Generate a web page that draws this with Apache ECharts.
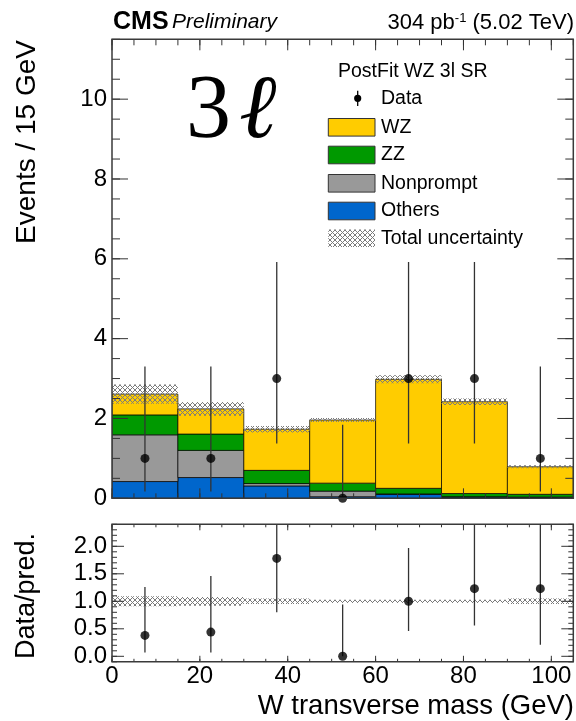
<!DOCTYPE html>
<html><head><meta charset="utf-8">
<script src="https://cdn.jsdelivr.net/npm/echarts@6/dist/echarts.min.js"></script>
<style>html,body{margin:0;padding:0;background:#fff}#c{width:576px;height:721px}</style>
</head><body><div id="c"></div>
<script>
// ---------------- data ----------------
const binEdges   = [0, 15, 30, 45, 60, 75, 90, 105];
const others     = [0.42, 0.52, 0.31, 0.04, 0.10, 0.03, 0.02];
const nonprompt  = [1.17, 0.68, 0.06, 0.14, 0.01, 0.01, 0.01];
const zz         = [0.50, 0.41, 0.33, 0.20, 0.14, 0.08, 0.07];
const wz         = [0.52, 0.63, 1.03, 1.58, 2.73, 2.30, 0.69];
const totUnc     = [0.24, 0.17, 0.08, 0.05, 0.10, 0.08, 0.04];
const dataCounts = [1, 1, 3, 0, 3, 3, 1];
const dataErrLo  = [0.17, 0.17, 1.37, 0, 1.37, 1.37, 0.17];
const dataErrHi  = [3.30, 3.30, 5.92, 1.84, 5.92, 5.92, 3.30];
const ratioVals  = [0.38, 0.44, 1.78, 0.0, 1.0, 1.23, 1.23];
const ratioLo    = [0.07, 0.07, 0.80, 0.0, 0.46, 0.56, 0.21];
const ratioHi    = [1.26, 1.46, 3.50, 0.94, 1.97, 2.42, 4.10];
const ratioUnc   = [0.09, 0.08, 0.05, 0.03, 0.03, 0.03, 0.05];
const xTickVals      = [0, 20, 40, 60, 80, 100];
const mainYTickVals  = [0, 2, 4, 6, 8, 10];
const ratioYTickVals = [0, 0.5, 1, 1.5, 2];

// ---------------- helpers ----------------
const FONT = '"Liberation Sans", Arial, Helvetica, sans-serif';
function range(a, b, step) { const out = []; const n = Math.round((b - a) / step); for (let i = 0; i <= n; i++) out.push(+(a + i * step).toFixed(6)); return out; }
function makeHatch() {
  const c = document.createElement('canvas'); c.width = 5; c.height = 5;
  const g = c.getContext('2d');
  g.strokeStyle = '#7a7a7a'; g.lineWidth = 1;
  g.beginPath(); g.moveTo(0, 0); g.lineTo(5, 5); g.moveTo(5, 0); g.lineTo(0, 5); g.stroke();
  return c;
}
const hatch = { image: makeHatch(), repeat: 'repeat' };

const processes = [
  { name: 'Others',    vals: others,    color: '#0066cc' },
  { name: 'Nonprompt', vals: nonprompt, color: '#999999' },
  { name: 'ZZ',        vals: zz,        color: '#009900' },
  { name: 'WZ',        vals: wz,        color: '#ffcc00' }
];
const cum = dataCounts.map(() => 0);
processes.forEach(p => {
  p.data = p.vals.map((v, i) => { const b = cum[i]; cum[i] += v; return [binEdges[i], binEdges[i + 1], b, cum[i]]; });
});
const total = cum.slice();
const centers = dataCounts.map((_, i) => (binEdges[i] + binEdges[i + 1]) / 2);

function rectRender(fill, stroke) {
  return function (params, api) {
    const p0 = api.coord([api.value(0), api.value(3)]);
    const p1 = api.coord([api.value(1), api.value(2)]);
    return { type: 'rect', shape: { x: p0[0], y: p0[1], width: p1[0] - p0[0], height: p1[1] - p0[1] },
      style: { fill: fill, stroke: stroke || null, lineWidth: stroke ? 1 : 0 } };
  };
}
function errRender(params, api) {
  const a = api.coord([api.value(0), api.value(1)]);
  const b = api.coord([api.value(0), api.value(2)]);
  return { type: 'line', shape: { x1: a[0], y1: a[1], x2: b[0], y2: b[1] }, style: { stroke: '#333', lineWidth: 1.3 } };
}
// frame + inward ticks on all four sides, positioned through the axes' scales
function frameRender(spec) {
  return function (params, api) {
    const cs = params.coordSys;
    const L = cs.x, R = cs.x + cs.width, T = cs.y, B = cs.y + cs.height;
    const st = { stroke: '#333', lineWidth: 1 };
    const ch = [];
    const xt = (vals, lb, lt) => vals.forEach(v => {
      const px = api.coord([v, spec.y0])[0];
      ch.push({ type: 'line', shape: { x1: px, y1: B, x2: px, y2: B - lb }, style: st });
      ch.push({ type: 'line', shape: { x1: px, y1: T, x2: px, y2: T + lt }, style: st });
    });
    const yt = (vals, l) => vals.forEach(v => {
      const py = api.coord([spec.x0, v])[1];
      ch.push({ type: 'line', shape: { x1: L, y1: py, x2: L + l, y2: py }, style: st });
      ch.push({ type: 'line', shape: { x1: R, y1: py, x2: R - l, y2: py }, style: st });
    });
    xt(spec.xMinor, spec.xMinLenB, spec.xMinLenT);
    xt(spec.xMajor, spec.xMajLenB, spec.xMajLenT);
    yt(spec.yMinor, spec.yMinLen);
    yt(spec.yMajor, spec.yMajLen);
    ch.push({ type: 'rect', shape: { x: L, y: T, width: R - L, height: B - T }, style: { fill: null, stroke: '#3a3a3a', lineWidth: 1.5 } });
    return { type: 'group', children: ch };
  };
}

function axisDef(grid, min, max, labels, fmt) {
  const a = {
    gridIndex: grid, type: 'value', min: min, max: max,
    axisLine: { show: false, onZero: false }, axisTick: { show: false }, splitLine: { show: false },
    axisLabel: { show: false }
  };
  if (labels) {
    a.axisLabel = { show: true, customValues: labels, fontSize: 24, fontFamily: FONT, color: '#000', margin: 5 };
    if (fmt) a.axisLabel.formatter = fmt;
  }
  return a;
}

const xAxes = [axisDef(0, 0, 105, null), axisDef(1, 0, 105, xTickVals)];
const yAxes = [axisDef(0, 0, 11.5, mainYTickVals), axisDef(1, -0.1, 2.4, ratioYTickVals, v => Number(v).toFixed(1))];
xAxes[1].axisLabel.margin = 3;

const series = [];
processes.forEach((p, k) => {
  series.push({ type: 'custom', name: p.name, coordinateSystem: 'cartesian2d', xAxisIndex: 0, yAxisIndex: 0,
    renderItem: rectRender(p.color, 'rgba(0,0,0,0.7)'), data: p.data, encode: { x: [0, 1], y: [2, 3] }, z: 2 + k, clip: true });
});
series.push({ type: 'custom', name: 'Total uncertainty', coordinateSystem: 'cartesian2d', xAxisIndex: 0, yAxisIndex: 0,
  renderItem: rectRender(hatch, null), z: 8, clip: true, encode: { x: [0, 1], y: [2, 3] },
  data: total.map((t, i) => [binEdges[i], binEdges[i + 1], t - totUnc[i], t + totUnc[i]]) });
series.push({ type: 'custom', name: 'Data err', coordinateSystem: 'cartesian2d', xAxisIndex: 0, yAxisIndex: 0,
  renderItem: errRender, z: 9, clip: true, encode: { x: 0, y: [1, 2] },
  data: centers.map((c, i) => [c, dataErrLo[i], dataErrHi[i]]) });
series.push({ type: 'scatter', name: 'Data', xAxisIndex: 0, yAxisIndex: 0, symbol: 'circle', symbolSize: 9,
  itemStyle: { color: '#000' }, z: 10, data: centers.map((c, i) => [c, dataCounts[i]]) });
// ratio panel
series.push({ type: 'custom', name: 'Ratio unc', coordinateSystem: 'cartesian2d', xAxisIndex: 1, yAxisIndex: 1,
  renderItem: rectRender(hatch, null), z: 3, clip: true, encode: { x: [0, 1], y: [2, 3] },
  data: ratioUnc.map((u, i) => [binEdges[i], binEdges[i + 1], 1 - u, 1 + u]) });
series.push({ type: 'custom', name: 'Ratio err', coordinateSystem: 'cartesian2d', xAxisIndex: 1, yAxisIndex: 1,
  renderItem: errRender, z: 9, clip: true, encode: { x: 0, y: [1, 2] },
  data: centers.map((c, i) => [c, ratioLo[i], ratioHi[i]]) });
series.push({ type: 'scatter', name: 'Ratio', xAxisIndex: 1, yAxisIndex: 1, symbol: 'circle', symbolSize: 9,
  itemStyle: { color: '#000' }, z: 10, data: centers.map((c, i) => [c, ratioVals[i]]) });
// frames with ticks
series.push({ type: 'custom', name: 'frame main', coordinateSystem: 'cartesian2d', xAxisIndex: 0, yAxisIndex: 0, z: 20, clip: false,
  data: [[0, 0]], silent: true,
  renderItem: frameRender({ x0: 0, y0: 0, xMajor: xTickVals, xMinor: range(0, 105, 5), xMajLenB: 10, xMajLenT: 11, xMinLenB: 5, xMinLenT: 6,
    yMajor: mainYTickVals, yMinor: range(0, 11.5, 0.5), yMajLen: 16, yMinLen: 8 }) });
series.push({ type: 'custom', name: 'frame ratio', coordinateSystem: 'cartesian2d', xAxisIndex: 1, yAxisIndex: 1, z: 20, clip: false,
  data: [[0, 0]], silent: true,
  renderItem: frameRender({ x0: 0, y0: 0, xMajor: xTickVals, xMinor: range(0, 105, 5), xMajLenB: 6, xMajLenT: 6, xMinLenB: 3, xMinLenT: 3,
    yMajor: ratioYTickVals, yMinor: range(-0.1, 2.4, 0.1), yMajLen: 12, yMinLen: 5 }) });

// ---------------- legend & texts ----------------
const legendRows = [
  { label: 'WZ', fill: '#ffcc00', y: 127.3 },
  { label: 'ZZ', fill: '#009900', y: 155 },
  { label: 'Nonprompt', fill: '#999999', y: 183.3 },
  { label: 'Others', fill: '#0066cc', y: 211 },
  { label: 'Total uncertainty', fill: hatch, y: 238.3 }
];
const graphics = [
  { type: 'text', x: 113, y: 22, style: { text: 'CMS', fontSize: 25, fontWeight: 'bold', fontFamily: FONT, fill: '#000', verticalAlign: 'middle' } },
  { type: 'text', x: 172, y: 22.5, style: { text: 'Preliminary', fontSize: 21, fontStyle: 'italic', fontFamily: FONT, fill: '#000', verticalAlign: 'middle' } },
  { type: 'text', x: 574, y: 23, style: { text: '304 pb{s|-1} (5.02 TeV)', fontSize: 22, fontFamily: FONT, fill: '#000', align: 'right', verticalAlign: 'middle',
      rich: { s: { fontSize: 13, fontFamily: FONT, verticalAlign: 'top', padding: [0, 0, 8, 0] } } } },
  { type: 'text', x: 186, y: 113, style: { text: '3{l|ℓ}', fontSize: 90, fontFamily: '"Liberation Serif", "DejaVu Serif", serif', fill: '#000', verticalAlign: 'middle',
      rich: { l: { fontSize: 90, fontStyle: 'italic', fontFamily: '"Liberation Serif", "DejaVu Serif", serif', padding: [0, 0, 0, 8] } } } },
  { type: 'text', x: 338, y: 71.5, style: { text: 'PostFit WZ 3l SR', fontSize: 19.5, fontFamily: FONT, fill: '#000', verticalAlign: 'middle' } },
  { type: 'line', shape: { x1: 357.7, y1: 90.7, x2: 357.7, y2: 106 }, style: { stroke: '#000', lineWidth: 1.3 } },
  { type: 'circle', shape: { cx: 357.7, cy: 98.3, r: 3.6 }, style: { fill: '#000' } },
  { type: 'text', x: 381, y: 98.3, style: { text: 'Data', fontSize: 19.5, fontFamily: FONT, fill: '#000', verticalAlign: 'middle' } },
  { type: 'text', x: 27, y: 40, rotation: Math.PI / 2, style: { text: 'Events / 15 GeV', fontSize: 28, fontFamily: FONT, fill: '#000', align: 'right', verticalAlign: 'middle' } },
  { type: 'text', x: 27, y: 596, rotation: Math.PI / 2, style: { text: 'Data/pred.', fontSize: 27, fontFamily: FONT, fill: '#000', align: 'center', verticalAlign: 'middle' } },
  { type: 'text', x: 574, y: 706, style: { text: 'W transverse mass (GeV)', fontSize: 27.5, fontFamily: FONT, fill: '#000', align: 'right', verticalAlign: 'middle' } }
];
legendRows.forEach(r => {
  graphics.push({ type: 'rect', shape: { x: 328.3, y: r.y - 8.8, width: 46.7, height: 17.6 },
    style: { fill: r.fill, stroke: r.label === 'Total uncertainty' ? null : '#333', lineWidth: 1 } });
  graphics.push({ type: 'text', x: 381, y: r.y, style: { text: r.label, fontSize: 19.5, fontFamily: FONT, fill: '#000', verticalAlign: 'middle' } });
});

const chart = echarts.init(document.getElementById('c'), null, { renderer: 'canvas' });
chart.setOption({
  animation: false,
  backgroundColor: '#fff',
  grid: [
    { left: 112, top: 39.3, width: 461.3, height: 459 },
    { left: 112, top: 524.3, width: 461.3, height: 137.5 }
  ],
  xAxis: xAxes,
  yAxis: yAxes,
  series: series,
  graphic: graphics
});
</script></body></html>
